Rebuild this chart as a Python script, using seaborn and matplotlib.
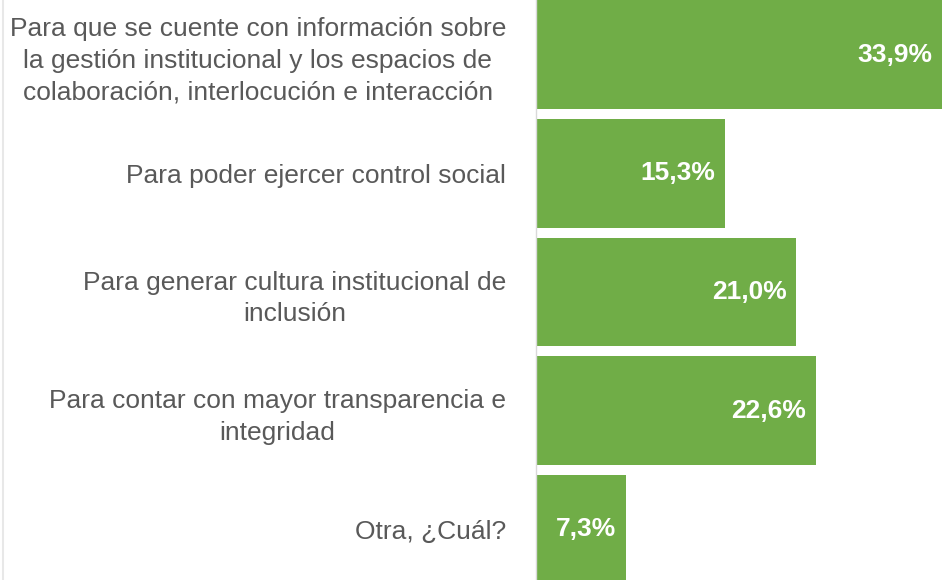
import matplotlib
matplotlib.use("Agg")
import matplotlib.pyplot as plt
import seaborn as sns
import pandas as pd
from matplotlib.lines import Line2D

categories = [
    "Para que se cuente con información sobre\nla gestión institucional y los espacios de\ncolaboración, interlocución e interacción",
    "Para poder ejercer control social",
    "Para generar cultura institucional de\ninclusión",
    "Para contar con mayor transparencia e\nintegridad",
    "Otra, ¿Cuál?",
]
values = [33.9, 15.3, 21.0, 22.6, 7.3]
value_labels = ["33,9%", "15,3%", "21,0%", "22,6%", "7,3%"]

sns.set_theme(style="white")
plt.rcParams["font.family"] = ["Liberation Sans", "DejaVu Sans"]

df = pd.DataFrame({"cat": categories, "val": values})

fig = plt.figure(figsize=(9.42, 5.80), dpi=100)
ax = fig.add_axes([535.7 / 942, 0.0, 1 - 535.7 / 942, 1.0])

sns.barplot(data=df, x="val", y="cat", orient="h", color="#70AD47",
            saturation=1, width=0.915, linewidth=0, edgecolor="none", ax=ax)

xmax = (942 - 535.7) / 12.4
ax.set_xlim(0, xmax)
ax.set_ylim(4.426, -0.46)

ax.set_xlabel("")
ax.set_ylabel("")
ax.set_xticks([])
ax.set_yticks(range(len(categories)))
ax.set_yticklabels(categories, fontsize=19, color="#595959",
                   multialignment="center", linespacing=1.4)
ax.tick_params(axis="y", length=0, pad=21.4)

for s in ["top", "right", "bottom"]:
    ax.spines[s].set_visible(False)
ax.spines["left"].set_color("#d9d9d9")
ax.spines["left"].set_linewidth(1.0)

for i, (v, lab) in enumerate(zip(values, value_labels)):
    xpos = min(v, xmax)
    ax.annotate(lab, xy=(xpos, i), xytext=(-7, 0), textcoords="offset points",
                ha="right", va="center", color="white", fontsize=19,
                fontweight="bold", annotation_clip=False)

fig.add_artist(Line2D([2.5 / 942, 2.5 / 942], [0, 1], color="#e8e8e8",
                      linewidth=1.5, transform=fig.transFigure))

fig.savefig("out.png", dpi=100)
